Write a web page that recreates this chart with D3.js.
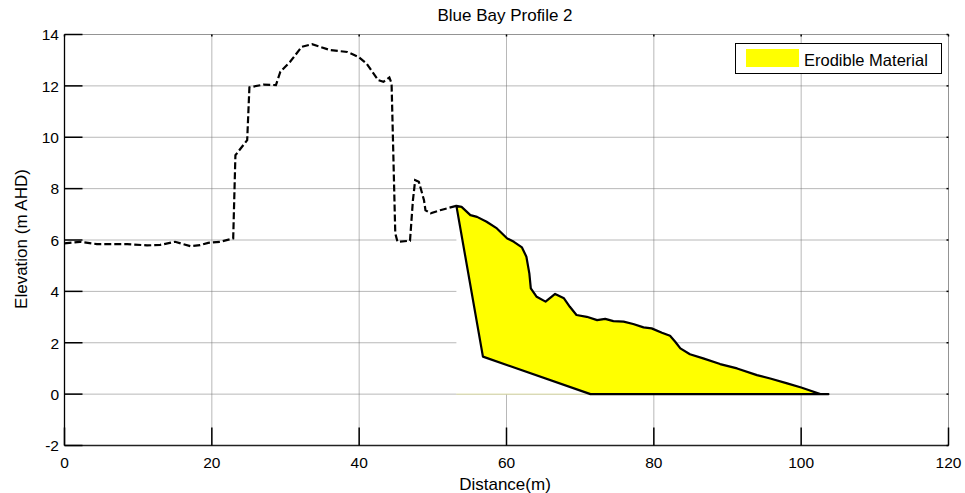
<!DOCTYPE html>
<html>
<head>
<meta charset="utf-8">
<script src="https://cdn.jsdelivr.net/npm/d3@7"></script>
<style>
  body { margin: 0; background: #fff; }
  text { font-family: Arial, "Liberation Sans", Helvetica, sans-serif; fill: #000; }
</style>
</head>
<body>
<div id="chart"></div>
<script>
// Beach profile (distance in m, elevation in m AHD)
const distance = [0, 2.1, 4.4, 8.5, 11.2, 13, 15, 17.1, 18.4, 19.5, 21.1, 22.9, 23.2, 24.8, 25.1,
    27.0, 28.7, 29.3, 30.6, 32.2, 33.6, 36.1, 38.4, 39.9, 41.0, 42.6, 43.3, 44.1, 44.4, 44.9,
    45.2, 46.9, 47.3, 47.6, 48.1, 48.8, 49.0, 49.7, 51.0, 53.2, 53.9, 55.1, 56.0, 57.3, 58.7,
    60.1, 61.0, 62.1, 62.7, 63.1, 63.3, 64.1, 65.3, 66.6, 67.8, 68.6, 69.5, 70.9, 72.3, 73.4,
    74.5, 75.9, 77.2, 78.6, 79.7, 81.1, 82.2, 82.9, 83.6, 84.9, 86.7, 89.0, 91.3, 94.0, 95.8,
    98.1, 100.0, 101.0, 102.6, 103.7];
const elevation = [5.87, 5.93, 5.84, 5.84, 5.79, 5.81, 5.93, 5.76, 5.8, 5.89, 5.93, 6.06, 9.3, 9.89, 11.94,
    12.05, 12.03, 12.55, 12.93, 13.52, 13.62, 13.39, 13.32, 13.13, 12.87, 12.22, 12.16, 12.33, 12.09, 6.26,
    5.93, 5.97, 7.55, 8.33, 8.27, 7.55, 7.16, 7.04, 7.16, 7.33, 7.29, 6.97, 6.9, 6.71, 6.45,
    6.06, 5.93, 5.71, 5.35, 4.7, 4.12, 3.79, 3.6, 3.9, 3.73, 3.4, 3.08, 3.01, 2.88, 2.93,
    2.84, 2.82, 2.73, 2.6, 2.56, 2.39, 2.27, 2.04, 1.78, 1.55, 1.39, 1.17, 1.0, 0.74, 0.61,
    0.42, 0.26, 0.16, 0.0, 0.0];

// Base of the erodible zone
const baseDistance = [53.2, 56.8, 71.4, 103.7];
const baseElevation = [7.33, 1.46, 0, 0];

const xTicks = [0, 20, 40, 60, 80, 100, 120];
const yTicks = [-2, 0, 2, 4, 6, 8, 10, 12, 14];

const width = 965;
const height = 493;

const svg = d3.select("#chart")
    .append("svg")
    .attr("width", width)
    .attr("height", height);

const x = d3.scaleLinear().domain([0, 120]).range([64.5, 948.5]);
const y = d3.scaleLinear().domain([-2, 14]).range([445.5, 34.5]);

// dotted grid
const grid = svg.append("g")
    .attr("stroke", "#707070")
    .attr("stroke-width", 1)
    .attr("stroke-dasharray", "1,1");
grid.selectAll(".gx")
    .data(xTicks.slice(1))
    .enter()
    .append("line")
    .attr("x1", d => x(d)).attr("x2", d => x(d))
    .attr("y1", y(14)).attr("y2", y(-2));
grid.selectAll(".gy")
    .data(yTicks.slice(1))
    .enter()
    .append("line")
    .attr("x1", x(0)).attr("x2", x(120))
    .attr("y1", d => y(d)).attr("y2", d => y(d));

const profile = distance.map((d, i) => [d, elevation[i]]);
const startX = baseDistance[0];
const seaward = profile.filter(p => p[0] >= startX);
const landward = profile.filter(p => p[0] <= startX);

const line = d3.line().x(d => x(d[0])).y(d => y(d[1]));

// white area under the seaward profile (hides the grid)
const under = seaward.concat([[seaward[seaward.length - 1][0], 0], [startX, 0]]);
svg.append("path")
    .attr("d", line(under) + "Z")
    .attr("fill", "#fff")
    .attr("stroke", "none");
svg.append("line")
    .attr("x1", x(startX)).attr("x2", x(baseDistance[2]))
    .attr("y1", y(0)).attr("y2", y(0))
    .attr("stroke", "#d8d8a0")
    .attr("stroke-width", 1);

// erodible material polygon
const base = baseDistance.map((d, i) => [d, baseElevation[i]]);
const erodible = seaward.concat(base.slice().reverse());
svg.append("path")
    .attr("d", line(erodible) + "Z")
    .attr("fill", "#ffff00")
    .attr("stroke", "#000")
    .attr("stroke-width", 2.2)
    .attr("stroke-linejoin", "round");

// dashed profile landward of the erodible zone
svg.append("path")
    .attr("d", line(landward))
    .attr("fill", "none")
    .attr("stroke", "#000")
    .attr("stroke-width", 2.2)
    .attr("stroke-dasharray", "7,3");

// axes box: top/right dotted like the grid, left/bottom solid
svg.append("line")
    .attr("x1", x(0)).attr("x2", x(120)).attr("y1", y(14)).attr("y2", y(14))
    .attr("stroke", "#707070").attr("stroke-dasharray", "1,1");
svg.append("line")
    .attr("x1", x(120)).attr("x2", x(120)).attr("y1", y(14)).attr("y2", y(-2))
    .attr("stroke", "#707070").attr("stroke-dasharray", "1,1");
svg.append("line")
    .attr("x1", x(0)).attr("x2", x(0)).attr("y1", y(14)).attr("y2", y(-2))
    .attr("stroke", "#000").attr("stroke-width", 1.3);
svg.append("line")
    .attr("x1", x(0)).attr("x2", x(120)).attr("y1", y(-2)).attr("y2", y(-2))
    .attr("stroke", "#222").attr("stroke-width", 1.5);

const tickLen = 18;
const ticks = svg.append("g").attr("stroke", "#000").attr("stroke-width", 1.5);
ticks.selectAll(".tx")
    .data(xTicks)
    .enter()
    .append("line")
    .attr("x1", d => x(d)).attr("x2", d => x(d))
    .attr("y1", y(-2)).attr("y2", y(-2) - tickLen);
ticks.selectAll(".ty")
    .data(yTicks)
    .enter()
    .append("line")
    .attr("x1", x(0)).attr("x2", x(0) + tickLen)
    .attr("y1", d => y(d)).attr("y2", d => y(d));
ticks.selectAll(".tt")
    .data(xTicks)
    .enter()
    .append("line")
    .attr("x1", d => x(d)).attr("x2", d => x(d))
    .attr("y1", y(14)).attr("y2", y(14) + 2);
ticks.selectAll(".tr")
    .data(yTicks)
    .enter()
    .append("line")
    .attr("x1", x(120)).attr("x2", x(120) - 2)
    .attr("y1", d => y(d)).attr("y2", d => y(d));

// tick labels
svg.selectAll(".xl")
    .data(xTicks)
    .enter()
    .append("text")
    .attr("x", d => x(d))
    .attr("y", 468)
    .attr("text-anchor", "middle")
    .style("font-size", "15.5px")
    .text(d => d);
svg.selectAll(".yl")
    .data(yTicks)
    .enter()
    .append("text")
    .attr("x", 59)
    .attr("y", d => y(d) + 5.8)
    .attr("text-anchor", "end")
    .style("font-size", "15.5px")
    .text(d => d);

// title and axis labels
svg.append("text")
    .attr("x", 505).attr("y", 21.3)
    .attr("text-anchor", "middle")
    .style("font-size", "17px")
    .text("Blue Bay Profile 2");
svg.append("text")
    .attr("x", 505).attr("y", 489.5)
    .attr("text-anchor", "middle")
    .style("font-size", "17px")
    .text("Distance(m)");
svg.append("text")
    .attr("transform", "translate(26.5, 239) rotate(-90)")
    .attr("text-anchor", "middle")
    .style("font-size", "17px")
    .text("Elevation (m AHD)");

// legend
const legend = svg.append("g");
legend.append("rect")
    .attr("x", 735.5).attr("y", 43.5)
    .attr("width", 206).attr("height", 30)
    .attr("fill", "#fff")
    .attr("stroke", "#000")
    .attr("stroke-width", 1);
legend.append("rect")
    .attr("x", 746).attr("y", 49)
    .attr("width", 53).attr("height", 18)
    .attr("fill", "#ffff00");
legend.append("text")
    .attr("x", 804).attr("y", 65.5)
    .style("font-size", "16.5px")
    .text("Erodible Material");
</script>
</body>
</html>
